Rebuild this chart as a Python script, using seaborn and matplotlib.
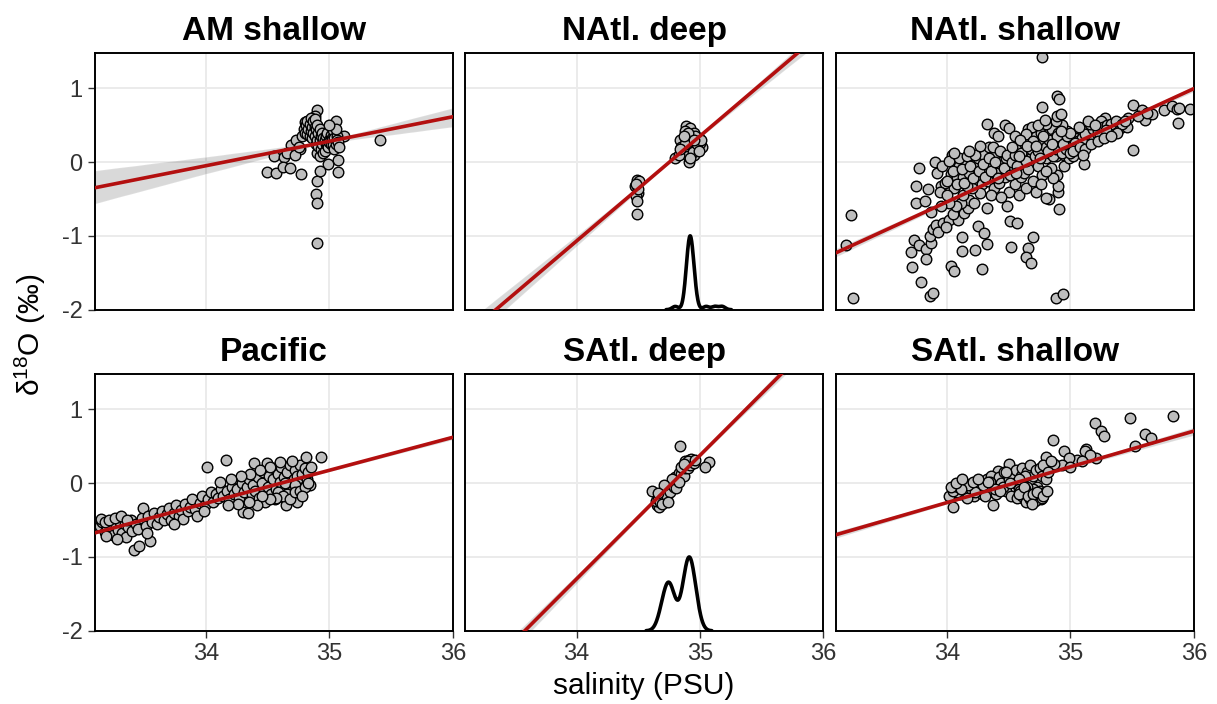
import matplotlib
matplotlib.use("Agg")
import matplotlib.pyplot as plt
import pandas as pd
import seaborn as sns

panels = ["AM shallow", "NAtl. deep", "NAtl. shallow", "Pacific", "SAtl. deep", "SAtl. shallow"]
x_ticks = [34, 35, 36]
y_ticks = [-2, -1, 0, 1]

# (salinity, d18O) pairs
am_shallow = [
    (34.90, 0.71), (34.88, 0.63), (34.80, 0.54), (35.05, 0.55), (35.41, 0.30), (34.55, 0.08),
    (34.63, 0.07), (34.49, -0.14), (34.57, -0.15), (34.62, -0.07), (34.68, -0.08), (34.77, -0.16),
    (35.07, -0.14), (35.07, 0.03), (34.99, -0.02), (34.90, -0.25), (34.89, -0.43), (34.90, -0.55),
    (34.90, -1.09), (34.92, -0.12), (34.69, 0.23), (34.73, 0.30), (34.76, 0.17), (35.12, 0.35),
    (34.66, 0.12), (34.72, 0.10), (34.75, 0.20),
    (34.78, 0.35), (34.79, 0.45), (34.80, 0.40), (34.81, 0.50), (34.82, 0.38), (34.82, 0.55),
    (34.83, 0.45), (34.84, 0.35), (34.84, 0.52), (34.85, 0.42), (34.85, 0.60), (34.86, 0.48),
    (34.86, 0.32), (34.87, 0.55), (34.87, 0.40), (34.88, 0.48), (34.88, 0.35), (34.88, 0.58),
    (34.89, 0.45), (34.89, 0.25), (34.90, 0.50), (34.90, 0.30), (34.90, 0.12), (34.91, 0.40),
    (34.91, 0.22), (34.92, 0.45), (34.92, 0.30), (34.92, 0.08), (34.93, 0.35), (34.93, 0.18),
    (34.94, 0.40), (34.94, 0.25), (34.95, 0.32), (34.95, 0.12),
    (34.96, 0.30), (34.96, 0.15), (34.97, 0.35), (34.97, 0.25), (34.98, 0.25), (34.98, 0.40),
    (34.99, 0.20), (35.00, 0.30), (35.00, 0.27), (35.01, 0.25), (35.01, 0.37), (35.02, 0.33),
    (35.02, 0.30), (35.03, 0.23), (35.03, 0.43), (35.04, 0.17), (35.04, 0.33), (35.05, 0.25),
    (35.06, 0.35), (35.06, 0.30), (35.07, 0.27), (35.08, 0.20), (35.05, 0.45), (35.00, 0.50),
]
natl_deep = [
    (34.49, -0.24), (34.51, -0.26), (34.47, -0.33), (34.50, -0.42), (34.48, -0.46), (34.49, -0.53),
    (34.49, -0.71), (34.50, -0.37), (34.48, -0.30), (34.89, 0.49), (34.92, 0.46), (34.95, 0.39),
    (34.91, 0.37), (34.99, 0.32), (34.84, 0.30), (35.02, 0.21), (34.80, 0.05), (34.91, 0.00),
    (34.87, 0.12), (34.95, 0.10), (34.97, 0.17), (34.92, 0.21), (34.85, 0.21), (35.00, 0.26),
    (34.89, 0.30), (34.93, 0.28), (34.88, 0.42), (34.96, 0.35), (34.86, 0.15), (34.90, 0.08),
    (34.94, 0.14), (34.98, 0.24), (34.83, 0.10), (34.88, 0.24), (35.01, 0.30), (34.90, 0.40),
    (34.95, 0.30), (34.87, 0.35), (34.92, 0.05), (34.84, 0.18), (34.99, 0.15),
]
natl_shallow = [
    (33.22, -0.72), (33.18, -1.12), (33.24, -1.84),
    (33.73, -1.05), (33.71, -1.22), (33.77, -1.12), (33.83, -1.18), (33.72, -1.42), (33.83, -1.32),
    (33.79, -1.63), (33.86, -1.82), (33.89, -1.78), (33.87, -1.10), (33.86, -1.00), (33.89, -0.91),
    (33.91, -0.85), (33.97, -0.82), (34.02, -0.78), (34.09, -0.78), (34.10, -0.62), (34.14, -0.69),
    (34.17, -0.62), (34.18, -0.51), (34.11, -0.55), (33.87, -0.67), (33.75, -0.56), (33.82, -0.53),
    (33.75, -0.32), (33.85, -0.36), (33.95, -0.33), (33.98, -0.28), (33.77, -0.08), (33.90, 0.00),
    (34.04, 0.09), (33.93, -0.95), (33.99, -0.88), (34.05, -0.70), (34.07, -0.60), (34.13, -0.45),
    (34.02, -0.55), (33.95, -0.60),
    (34.12, -1.02), (34.12, -1.21), (34.23, -1.19), (34.32, -1.11), (34.25, -0.86), (34.30, -0.96),
    (34.03, -1.41), (34.06, -1.48), (34.28, -1.45), (34.52, -1.15), (34.66, -1.16), (34.70, -1.01),
    (34.64, -1.28), (34.68, -1.37), (34.51, -0.80), (34.57, -0.82), (34.88, -1.84), (34.94, -1.79),
    (34.91, -0.64), (34.83, -0.50), (34.80, -0.49), (34.49, -0.59), (34.32, -0.62), (34.90, -0.41),
    (34.90, -0.33), (34.89, -0.17), (35.11, -0.03), (35.51, 0.16),
    (34.03, -0.16), (34.08, -0.20), (34.13, -0.20), (34.18, -0.15), (34.21, -0.04), (34.24, -0.19),
    (34.28, -0.30), (34.30, -0.10), (34.33, -0.25), (34.35, -0.05), (34.38, -0.35), (34.40, -0.15),
    (34.42, -0.28), (34.45, 0.02), (34.47, -0.20), (34.50, -0.40), (34.52, -0.10), (34.27, -0.42),
    (34.20, -0.35), (34.16, -0.32), (34.36, -0.45), (34.44, -0.48), (34.55, -0.30), (34.58, -0.45),
    (34.60, -0.20), (34.62, -0.05), (34.64, -0.35), (34.25, 0.05), (34.30, 0.10), (34.40, 0.12),
    (34.48, 0.05), (34.34, 0.20), (34.37, 0.20), (34.32, 0.52), (34.47, 0.50), (34.50, 0.46),
    (34.38, 0.39), (34.41, 0.35), (34.55, 0.35), (34.66, 0.45), (34.10, -0.05), (34.15, 0.02),
    (34.06, -0.35), (34.22, -0.55),
    (33.92, -0.15), (33.96, -0.05), (34.00, -0.25), (34.02, 0.02), (34.05, -0.12), (34.08, -0.30),
    (34.10, 0.05), (34.12, -0.10), (34.14, -0.28), (34.16, 0.08), (34.19, -0.05), (34.21, -0.22),
    (34.23, 0.10), (34.26, -0.12), (34.29, -0.02), (34.31, -0.20), (34.34, 0.05), (34.36, -0.12),
    (34.39, 0.00), (34.41, -0.22), (34.43, 0.15), (34.46, -0.08), (34.49, 0.10), (34.51, -0.18),
    (34.53, 0.00), (33.94, -0.40), (34.00, -0.45), (34.06, 0.12), (34.18, 0.15), (34.27, 0.22),
    (34.55, 0.10), (34.58, 0.20), (34.60, 0.05), (34.63, 0.25), (34.65, 0.15), (34.67, 0.30),
    (34.68, 0.05), (34.70, 0.20), (34.72, 0.35), (34.73, 0.10), (34.75, 0.25), (34.76, 0.40),
    (34.78, 0.15), (34.79, 0.30), (34.80, 0.05), (34.81, 0.22), (34.82, 0.38), (34.83, 0.12),
    (34.84, 0.28), (34.85, 0.45), (34.86, 0.18), (34.87, 0.33), (34.88, 0.08), (34.89, 0.25),
    (34.90, 0.40), (34.91, 0.15), (34.92, 0.30), (34.93, 0.20), (34.94, 0.35), (34.95, 0.10),
    (34.96, 0.28), (34.97, 0.42), (34.98, 0.20), (34.99, 0.32), (35.00, 0.25), (35.01, 0.38),
    (35.02, 0.18), (35.03, 0.30), (35.05, 0.35), (35.06, 0.22), (35.08, 0.40), (34.62, -0.15),
    (34.66, -0.10), (34.70, -0.25), (34.74, -0.05), (34.77, -0.18), (34.84, -0.08), (34.86, -0.22),
    (34.95, -0.05), (34.72, -0.40), (34.76, -0.30), (34.80, -0.12), (34.57, -0.05), (34.69, 0.48),
    (34.80, 0.52), (34.93, 0.50), (34.88, 0.55), (34.74, 0.50), (34.64, 0.38), (34.59, 0.30),
    (34.53, 0.20), (34.56, -0.15), (34.99, 0.05), (35.02, 0.08),
    (34.60, 0.12), (34.64, 0.02), (34.68, 0.18), (34.71, 0.08), (34.74, 0.15), (34.77, 0.28),
    (34.80, 0.20), (34.83, 0.30), (34.86, 0.08), (34.88, 0.18), (34.91, 0.28), (34.93, 0.12),
    (34.96, 0.18), (34.98, 0.30), (35.01, 0.22), (35.04, 0.32), (34.70, 0.28), (34.75, 0.05),
    (34.82, 0.15), (34.89, 0.35), (34.94, 0.25), (34.97, 0.35), (35.00, 0.40), (34.85, 0.25),
    (34.78, 0.35), (34.65, 0.22), (34.58, 0.08), (34.92, 0.42), (35.06, 0.28), (34.72, 0.22),
    (35.13, 0.46), (35.09, 0.44), (35.20, 0.37), (35.15, 0.30), (35.09, 0.32), (35.05, 0.17),
    (35.00, 0.12), (35.04, 0.26), (35.28, 0.59), (35.25, 0.55), (35.40, 0.46), (35.46, 0.47),
    (35.47, 0.59), (35.35, 0.44), (35.31, 0.39), (35.12, 0.38), (35.18, 0.45), (35.22, 0.42),
    (35.26, 0.48), (35.30, 0.50), (35.33, 0.52), (35.37, 0.55), (35.42, 0.52), (35.16, 0.52),
    (35.11, 0.25), (35.24, 0.35), (35.07, 0.48), (35.14, 0.55), (35.20, 0.50), (35.29, 0.44),
    (35.38, 0.40), (35.44, 0.56),
    (35.02, 0.15), (35.08, 0.20), (35.12, 0.18), (35.17, 0.25), (35.22, 0.28), (35.27, 0.32),
    (35.33, 0.35), (35.10, 0.10),
    (35.51, 0.77), (35.58, 0.70), (35.60, 0.57), (35.66, 0.65), (35.76, 0.71), (35.82, 0.76),
    (35.86, 0.72), (35.88, 0.73), (35.97, 0.72), (35.87, 0.53), (35.55, 0.62), (35.62, 0.66),
    (34.77, 1.42), (34.89, 0.89), (34.91, 0.85), (34.77, 0.74), (34.79, 0.57), (34.89, 0.63),
    (34.92, 0.65),
]
pacific = [
    (33.14, -0.58), (33.16, -0.53), (33.18, -0.66), (33.20, -0.60), (33.22, -0.55), (33.23, -0.64),
    (33.25, -0.70), (33.27, -0.58), (33.29, -0.63), (33.30, -0.52), (33.32, -0.67), (33.34, -0.56),
    (33.35, -0.73), (33.37, -0.60), (33.39, -0.50), (33.40, -0.65), (33.42, -0.90), (33.43, -0.55),
    (33.45, -0.62), (33.46, -0.85), (33.48, -0.47), (33.49, -0.34), (33.51, -0.58), (33.53, -0.45),
    (33.55, -0.79), (33.56, -0.52), (33.58, -0.40), (33.60, -0.55), (33.62, -0.46), (33.64, -0.38),
    (33.66, -0.50), (33.68, -0.42), (33.70, -0.33), (33.72, -0.50), (33.74, -0.40), (33.76, -0.30),
    (33.78, -0.45), (33.80, -0.36), (33.81, -0.48), (33.83, -0.28), (33.85, -0.38), (33.87, -0.32),
    (33.89, -0.22), (33.91, -0.35), (33.93, -0.44), (33.95, -0.27), (33.97, -0.18), (33.99, -0.30),
    (34.01, 0.22), (34.02, -0.22), (34.04, -0.12), (34.06, -0.25), (34.08, -0.15), (34.10, -0.20),
    (34.12, -0.08), (34.14, -0.18), (34.16, 0.31), (34.17, -0.10), (34.19, -0.22), (34.21, -0.05),
    (34.23, -0.15), (34.25, -0.08), (34.27, -0.20), (34.29, 0.00), (34.30, -0.39), (34.31, -0.12),
    (34.33, -0.05), (34.34, -0.40), (34.35, 0.05), (34.37, -0.15), (34.38, -0.02), (34.39, 0.27),
    (34.40, -0.10), (34.42, 0.08), (34.43, -0.20), (34.45, 0.00), (34.46, 0.15), (34.47, -0.12),
    (34.49, 0.27), (34.50, -0.05), (34.51, 0.10), (34.53, -0.15), (34.54, 0.05), (34.55, 0.20),
    (34.57, -0.08), (34.58, 0.12), (34.59, -0.18), (34.60, 0.02), (34.61, 0.22), (34.62, -0.10),
    (34.63, 0.08), (34.64, -0.22), (34.65, -0.29), (34.66, 0.15), (34.67, -0.05), (34.68, 0.25),
    (34.69, -0.12), (34.70, -0.20), (34.71, 0.05), (34.72, 0.18), (34.73, -0.08), (34.74, 0.10),
    (34.75, -0.15), (34.76, 0.25), (34.77, 0.00), (34.78, 0.12), (34.79, -0.05), (34.80, 0.20),
    (34.81, 0.36), (34.82, 0.05), (34.83, 0.15), (34.84, -0.02), (34.85, 0.22), (34.93, 0.36),
    (34.44, 0.18), (34.36, 0.12), (34.28, 0.10), (34.20, 0.05), (34.11, 0.02), (34.56, -0.22),
    (34.48, -0.25), (34.41, -0.30), (34.26, -0.28), (34.66, -0.15), (34.74, -0.25), (34.52, 0.22),
    (34.60, 0.28), (34.70, 0.30), (34.58, -0.12), (34.64, 0.00), (34.72, -0.02), (34.35, -0.25),
    (34.18, -0.30), (33.98, -0.38), (33.74, -0.55), (33.52, -0.68), (33.28, -0.75), (33.19, -0.72),
    (34.62, -0.18), (34.68, -0.22), (34.72, -0.12), (34.76, -0.10), (34.80, -0.05), (34.83, 0.00),
    (34.57, -0.20), (34.52, -0.22), (34.45, -0.18), (34.78, -0.18),
    (33.15, -0.48), (33.18, -0.52), (33.21, -0.50), (33.26, -0.47), (33.31, -0.45), (33.36, -0.50),
]
satl_deep = [
    (34.84, 0.51), (35.07, 0.28), (35.04, 0.22), (34.61, -0.11), (34.65, -0.30), (34.67, -0.32),
    (34.64, -0.24), (34.66, -0.22), (34.68, -0.26), (34.70, -0.12), (34.72, -0.08), (34.69, -0.28),
    (34.73, -0.18), (34.75, -0.02), (34.76, -0.12), (34.78, 0.03), (34.79, -0.05), (34.80, 0.08),
    (34.82, 0.05), (34.83, 0.14), (34.85, 0.12), (34.86, 0.20), (34.87, 0.10), (34.88, 0.20),
    (34.89, 0.28), (34.90, 0.20), (34.91, 0.32), (34.92, 0.25), (34.93, 0.33), (34.94, 0.30),
    (34.95, 0.27), (34.88, 0.30), (34.85, 0.22), (34.81, -0.06), (34.77, 0.06), (34.74, -0.25),
    (34.71, -0.02), (34.66, -0.14), (34.90, 0.30), (34.96, 0.32), (34.83, 0.02), (34.87, 0.26),
]
satl_shallow = [
    (35.83, 0.91), (35.48, 0.88), (35.20, 0.82), (35.25, 0.71), (35.27, 0.64), (35.60, 0.67),
    (35.65, 0.61), (35.52, 0.50), (34.86, 0.58), (35.13, 0.46), (35.12, 0.43), (34.95, 0.43),
    (35.05, 0.32), (34.99, 0.34), (35.21, 0.34), (34.80, 0.36), (34.93, 0.25), (34.87, 0.26),
    (34.50, 0.26), (34.41, 0.17), (34.02, -0.18), (34.05, -0.32), (34.37, -0.29), (34.69, -0.23),
    (34.57, -0.18), (35.16, 0.38), (35.09, 0.30), (35.00, 0.22),
    (34.10, -0.15), (34.13, -0.05), (34.15, -0.12), (34.18, -0.03), (34.20, -0.10), (34.22, -0.18),
    (34.24, -0.05), (34.26, 0.00), (34.28, -0.15), (34.30, -0.05), (34.32, 0.05), (34.34, -0.12),
    (34.36, 0.10), (34.38, -0.02), (34.40, -0.15), (34.42, 0.08), (34.44, 0.00), (34.46, 0.15),
    (34.48, -0.10), (34.50, 0.05), (34.52, -0.18), (34.53, 0.12), (34.55, 0.00), (34.56, 0.18),
    (34.58, -0.08), (34.60, 0.10), (34.61, 0.20), (34.62, -0.12), (34.64, 0.05), (34.65, 0.15),
    (34.66, -0.20), (34.67, 0.25), (34.68, 0.00), (34.70, 0.10), (34.71, -0.15), (34.72, 0.18),
    (34.73, -0.05), (34.75, 0.20), (34.76, -0.15), (34.77, 0.10), (34.78, 0.25), (34.80, 0.05),
    (34.82, 0.15), (34.84, 0.30), (34.68, -0.25), (34.70, -0.22), (34.27, -0.08), (34.35, 0.02),
    (34.45, -0.05), (34.63, 0.10), (34.74, -0.18), (34.58, 0.05), (34.48, 0.15), (34.39, -0.08),
    (34.31, -0.18), (34.19, -0.08), (34.12, -0.15), (34.08, -0.12),
    (34.64, -0.15), (34.66, -0.10), (34.69, -0.18), (34.72, -0.20), (34.75, -0.10), (34.62, -0.22),
    (34.60, -0.12), (34.70, -0.08), (34.73, -0.22), (34.67, -0.15), (34.76, -0.22), (34.65, -0.05),
    (34.16, -0.20), (34.23, -0.12), (34.29, -0.02), (34.33, 0.02), (34.43, -0.10), (34.51, 0.00),
    (34.57, -0.20), (34.61, -0.18), (34.64, -0.25), (34.67, -0.22), (34.71, -0.24), (34.74, -0.15),
    (34.77, -0.20), (34.79, -0.12), (34.59, -0.10), (34.63, -0.08),
    (34.05, -0.10), (34.09, -0.05), (34.14, 0.00), (34.17, -0.02), (34.21, 0.02), (34.25, 0.05),
    (34.11, -0.08),
    (34.58, -0.15), (34.62, -0.05), (34.66, -0.18), (34.70, -0.15), (34.73, -0.12), (34.78, -0.18),
    (34.81, -0.10), (34.69, -0.28), (34.03, -0.05), (34.07, 0.00), (34.12, 0.05),
]

# salinity samples behind the density curves of the deep panels
natl_deep_density_sal = [
    34.80, 34.89, 34.89, 34.90, 34.90, 34.90, 34.91, 34.91, 34.91, 34.91, 34.91, 34.92, 34.92,
    34.92, 34.92, 34.92, 34.92, 34.92, 34.93, 34.93, 34.93, 34.93, 34.93, 34.94, 34.94, 34.94,
    34.95, 34.95, 34.96, 35.05, 35.12, 35.18,
]
satl_deep_density_sal = [
    34.69, 34.71, 34.73, 34.74, 34.75, 34.76, 34.77, 34.79,
    34.86, 34.88, 34.89, 34.90, 34.90, 34.91, 34.92, 34.92, 34.93, 34.94, 34.95, 34.97,
]

point_sets = [am_shallow, natl_deep, natl_shallow, pacific, satl_deep, satl_shallow]
rows = []
for name, pts in zip(panels, point_sets):
    for s, d in pts:
        rows.append({"panel": name, "sal": s, "d18o": d})
df = pd.DataFrame(rows)

densities = {"NAtl. deep": (natl_deep_density_sal, 0.37),
             "SAtl. deep": (satl_deep_density_sal, 0.46)}
band_level = {"AM shallow": 60, "NAtl. deep": 50, "NAtl. shallow": 50,
              "Pacific": 50, "SAtl. deep": 30, "SAtl. shallow": 50}

sns.set_theme(style="white")
plt.rcParams["font.family"] = ["Liberation Sans", "DejaVu Sans"]
plt.rcParams["mathtext.fontset"] = "custom"
plt.rcParams["mathtext.rm"] = "Liberation Sans"
plt.rcParams["mathtext.it"] = "Liberation Sans:italic"
plt.rcParams["mathtext.bf"] = "Liberation Sans:bold"
plt.rcParams["axes.unicode_minus"] = False

XLIM = (33.1, 36.0)
YLIM = (-2.0, 1.48)

fig, axes = plt.subplots(2, 3, figsize=(12.17, 7.04), dpi=100, sharex=True, sharey=True)
fig.subplots_adjust(left=0.078, right=0.981, top=0.925, bottom=0.104, wspace=0.035, hspace=0.25)

for i, (ax, name) in enumerate(zip(axes.flat, panels)):
    sub = df[df.panel == name]
    ax.set_xlim(*XLIM)
    ax.set_ylim(*YLIM)
    ax.set_xticks(x_ticks)
    ax.set_yticks(y_ticks)
    ax.grid(True, color="#EBEBEB", lw=1.4)
    ax.set_axisbelow(True)
    sns.scatterplot(data=sub, x="sal", y="d18o", ax=ax, color="#BEBEBE", edgecolor="black",
                    linewidth=1.0, s=58, zorder=2, legend=False)
    sns.regplot(data=sub, x="sal", y="d18o", ax=ax, scatter=False, truncate=False,
                ci=band_level[name], color="black", line_kws=dict(alpha=0), seed=1)
    sns.regplot(data=sub, x="sal", y="d18o", ax=ax, scatter=False, truncate=False,
                ci=None, color="#B30F0F", line_kws=dict(lw=2.6, zorder=3))
    if name in densities:
        vals, bw = densities[name]
        tw = ax.twinx()
        sns.kdeplot(x=vals, ax=tw, color="black", lw=2.6, bw_method=bw)
        peak = max(tw.lines[0].get_ydata())
        tw.set_ylim(0, peak * (YLIM[1] - YLIM[0]))
        tw.set_axis_off()
    ax.set_xlabel("")
    ax.set_ylabel("")
    ax.set_title(name, fontsize=24, fontweight="bold", pad=9, color="black")
    for sp in ax.spines.values():
        sp.set_color("black")
        sp.set_linewidth(1.4)
    r, c = divmod(i, 3)
    ax.tick_params(axis="x", bottom=(r == 1), length=5 if r == 1 else 0, width=1,
                   color="#333333", labelsize=17, labelcolor="#333333", pad=4)
    ax.tick_params(axis="y", left=(c == 0), length=5 if c == 0 else 0, width=1,
                   color="#333333", labelsize=17, labelcolor="#333333", pad=4)

axes[0, 0].set_xlim(*XLIM)
axes[0, 0].set_ylim(*YLIM)

fig.text(0.529, 0.026, "salinity (PSU)", ha="center", va="center", fontsize=21.5, color="black")
fig.text(0.025, 0.524, "δ$^{18}$O (‰)", ha="center", va="center", rotation=90,
         fontsize=21.5, color="black")

fig.savefig("out.png", dpi=100)
